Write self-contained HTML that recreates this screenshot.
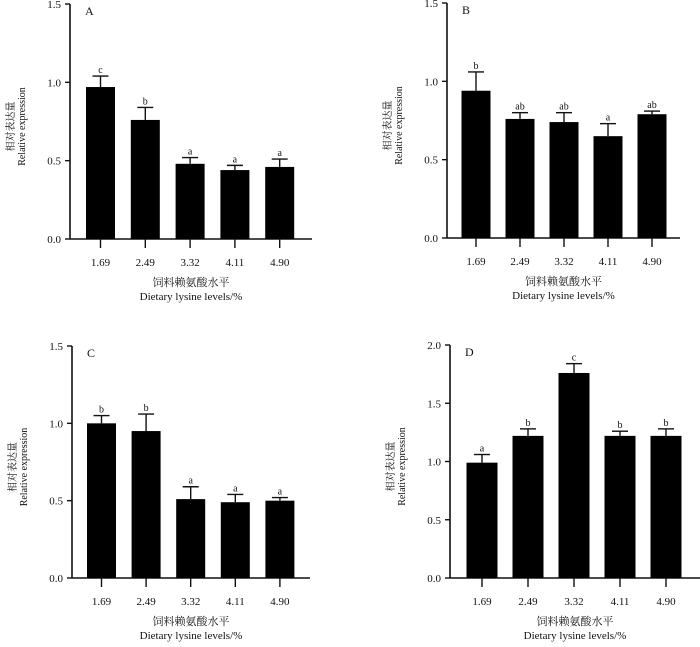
<!DOCTYPE html>
<html><head><meta charset="utf-8"><style>
body{margin:0;background:#fff;}
svg text{font-family:"Liberation Serif","Noto Serif CJK SC",serif;fill:#111;}
</style></head><body>
<svg id="chart" width="700" height="642" viewBox="0 0 700 642" xmlns="http://www.w3.org/2000/svg"></svg>
<script>
const categories = ["1.69","2.49","3.32","4.11","4.90"];
const valuesA = [0.97,0.76,0.48,0.44,0.46];
const errorsA = [0.07,0.08,0.04,0.03,0.05];
const lettersA = ["c","b","a","a","a"];
const valuesB = [0.94,0.76,0.74,0.65,0.79];
const errorsB = [0.12,0.04,0.06,0.08,0.02];
const lettersB = ["b","ab","ab","a","ab"];
const valuesC = [1.00,0.95,0.51,0.49,0.50];
const errorsC = [0.05,0.11,0.08,0.05,0.02];
const lettersC = ["b","b","a","a","a"];
const valuesD = [0.99,1.22,1.76,1.22,1.22];
const errorsD = [0.07,0.06,0.08,0.04,0.06];
const lettersD = ["a","b","c","b","b"];
const ticks15 = [0,0.5,1.0,1.5];
const ticks20 = [0,0.5,1.0,1.5,2.0];

const NS="http://www.w3.org/2000/svg";
const svg=document.getElementById('chart');
function mk(tag,attrs,parent,text){const e=document.createElementNS(NS,tag);for(const k in attrs)e.setAttribute(k,attrs[k]);if(text!==undefined)e.textContent=text;(parent||svg).appendChild(e);return e;}

function panel(id,label,cfg,values,errors,letters,ticks){
  const g=mk('g',{});
  
  
  const max=ticks[ticks.length-1];
  const y=v=>cfg.zero-(cfg.zero-cfg.top)*v/max;
  const x=i=>cfg.first+i*cfg.sp;
  const ax=mk('line',{x1:cfg.ax,y1:cfg.top,x2:cfg.ax,y2:cfg.zero,stroke:'#111','stroke-width':1.6},g);
  
  
  const xa=mk('line',{x1:cfg.ax,y1:cfg.zero,x2:cfg.right,y2:cfg.zero,stroke:'#111','stroke-width':1.6},g);
  
  
  ticks.forEach(t=>{
    mk('line',{x1:cfg.ax-5,y1:y(t),x2:cfg.ax,y2:y(t),stroke:'#111','stroke-width':1.4},g);
    const tl=mk('text',{x:cfg.ax-9,y:y(t)+4,'text-anchor':'end','font-size':11},g,t.toFixed(1));
    
    
  });
  const pl=mk('text',{x:cfg.ax+15,y:cfg.top+11,'font-size':12},g,label);
  
  
  categories.forEach((c,i)=>{
    const cx=x(i);
    const b=mk('rect',{x:cx-cfg.bw/2,y:y(values[i]),width:cfg.bw,height:cfg.zero-y(values[i]),fill:'#000'},g);
    
    
    const et=y(values[i]+errors[i]);
    mk('line',{x1:cx,y1:y(values[i]),x2:cx,y2:et,stroke:'#111','stroke-width':1.4},g);
    mk('line',{x1:cx-8,y1:et,x2:cx+8,y2:et,stroke:'#111','stroke-width':1.4},g);
    const lt=mk('text',{x:cx,y:et-3,'text-anchor':'middle','font-size':10},g,letters[i]);
    
    
    mk('line',{x1:cx,y1:cfg.zero,x2:cx,y2:cfg.zero+9,stroke:'#111','stroke-width':1.4},g);
    const xl=mk('text',{x:cx,y:cfg.zero+27,'text-anchor':'middle','font-size':11},g,c);
    
    
  });
  const mid=(cfg.ax+cfg.right)/2;
  const t1=mk('text',{x:mid,y:cfg.zero+47,'text-anchor':'middle','font-size':11},g,'饲料赖氨酸水平');
  
  
  const t2=mk('text',{x:mid,y:cfg.zero+61,'text-anchor':'middle','font-size':11},g,'Dietary lysine levels/%');
  
  
  const ymid=(cfg.top+cfg.zero)/2+5;
  const y1=mk('text',{x:0,y:0,'text-anchor':'middle','font-size':10,transform:`translate(${cfg.ax-56},${ymid}) rotate(-90)`},g,'相对表达量');
  
  
  const y2=mk('text',{x:0,y:0,'text-anchor':'middle','font-size':10,transform:`translate(${cfg.ax-45},${ymid}) rotate(-90)`},g,'Relative expression');
  
  
}
panel('a','A',{ax:70,top:4,zero:239,first:100.5,sp:44.8,bw:29,right:312},valuesA,errorsA,lettersA,ticks15);
panel('b','B',{ax:447,top:3,zero:238,first:476,sp:44,bw:29,right:680},valuesB,errorsB,lettersB,ticks15);
panel('c','C',{ax:72,top:346,zero:578,first:101.5,sp:44.6,bw:29,right:310},valuesC,errorsC,lettersC,ticks15);
panel('d','D',{ax:450,top:345,zero:578,first:482,sp:46,bw:31,right:700},valuesD,errorsD,lettersD,ticks20);
</script>
</body></html>
